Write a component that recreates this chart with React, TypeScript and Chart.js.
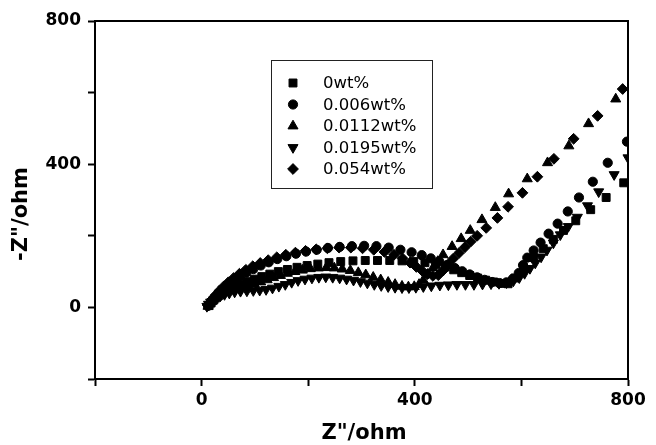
import React, { useEffect, useRef } from 'react';
import { Chart, registerables } from 'chart.js';
import { drawPoint } from 'chart.js/helpers';

Chart.register(...registerables);

// ---- data (Z' / ohm, -Z'' / ohm) ----
const seriesLabels = ['0wt%', '0.006wt%', '0.0112wt%', '0.0195wt%', '0.054wt%'];

const wt0: [number, number][] = [
  [14, 5], [18, 13], [23, 21], [29, 29], [36, 37], [44, 44], [53, 51], [63, 58], [74, 65], [86, 72],
  [99, 79], [113, 86], [128, 93], [144, 100], [161, 106], [179, 112], [198, 117], [218, 121], [239, 125],
  [261, 128], [284, 130], [307, 131], [330, 131], [353, 131], [376, 130], [398, 128], [419, 125], [439, 120],
  [457, 113], [473, 105], [488, 97], [503, 89], [518, 82], [533, 76], [548, 71], [562, 67], [575, 66],
  [588, 82], [604, 111], [623, 139], [641, 164], [660, 190], [679, 215], [702, 242], [730, 273], [759, 307],
  [792, 348],
];

const wt0006: [number, number][] = [
  [12, 4], [16, 12], [21, 21], [27, 31], [34, 42], [42, 53], [51, 64], [61, 75], [72, 86], [84, 97],
  [97, 107], [111, 117], [126, 126], [142, 135], [159, 143], [177, 150], [196, 156], [216, 161], [237, 166],
  [259, 169], [282, 171], [305, 172], [328, 171], [351, 167], [373, 161], [394, 154], [413, 146], [430, 137],
  [446, 128], [461, 119], [475, 110], [489, 101], [503, 92], [517, 84], [531, 77], [545, 71], [559, 68],
  [572, 70], [584, 80], [595, 96], [603, 118], [611, 139], [623, 159], [636, 181], [651, 206], [668, 234],
  [687, 268], [708, 307], [734, 351], [762, 404], [798, 463],
];

const wt00112: [number, number][] = [
  [12, 3], [15, 9], [19, 16], [24, 23], [30, 30], [37, 37], [45, 43], [54, 48], [64, 52], [75, 56],
  [87, 60], [99, 65], [111, 71], [123, 77], [135, 83], [148, 89], [161, 95], [175, 100], [189, 104],
  [204, 108], [219, 110], [234, 111], [249, 110], [264, 107], [279, 103], [294, 97], [308, 91], [322, 84],
  [336, 77], [350, 70], [363, 64], [376, 59], [388, 57], [399, 58], [408, 64], [416, 76], [425, 92],
  [434, 110], [443, 128], [453, 147], [470, 170], [487, 192], [504, 215], [526, 245], [551, 279],
  [576, 317], [611, 359], [649, 404], [689, 451], [726, 513], [777, 582],
];

const wt00195: [number, number][] = [
  [10, 3], [13, 9], [17, 15], [22, 21], [28, 27], [35, 32], [43, 36], [52, 40], [62, 43], [73, 45],
  [85, 46], [97, 47], [109, 48], [121, 50], [133, 54], [145, 59], [157, 64], [169, 70], [181, 75],
  [194, 79], [207, 82], [220, 84], [233, 85], [246, 84], [259, 82], [272, 79], [285, 76], [298, 72],
  [311, 68], [324, 64], [337, 61], [350, 58], [363, 56], [376, 55], [389, 55], [402, 56], [416, 58],
  [431, 60], [447, 62], [463, 63], [479, 64], [495, 64], [511, 64], [527, 65], [543, 66], [558, 67],
  [572, 69], [585, 74], [596, 83], [606, 95], [616, 109], [626, 124], [637, 141], [648, 160], [660, 180],
  [673, 203], [688, 226], [705, 252], [724, 284], [745, 323], [774, 371], [800, 418],
];

const wt0054: [number, number][] = [
  [12, 5], [15, 13], [20, 23], [26, 34], [33, 46], [41, 58], [50, 70], [60, 82], [71, 94], [83, 105],
  [96, 115], [110, 124], [125, 132], [141, 140], [158, 147], [176, 153], [195, 158], [215, 162], [236, 165],
  [258, 167], [280, 167], [302, 165], [323, 161], [343, 155], [361, 147], [377, 137], [391, 125], [403, 113],
  [414, 102], [424, 93], [434, 88], [444, 90], [453, 103], [462, 119], [472, 136], [483, 152], [494, 168],
  [505, 184], [517, 200], [534, 222], [555, 250], [575, 281], [602, 320], [630, 365], [661, 415],
  [698, 471], [743, 535], [790, 610],
];

const allSeries = [wt0, wt0006, wt00112, wt00195, wt0054];
const markerStyles = ['rect', 'circle', 'triangle', 'triangle', 'rectRot'];
const markerRotations = [0, 0, 0, 180, 0];
const markerRadii = [5.6, 4.6, 5.8, 5.8, 5.4];

const axisMin = -200;
const axisMax = 800;
const tickStep = 200;
const labelledTicks = [0, 400, 800];
const xTitle = 'Z"/ohm';
const yTitle = '-Z"/ohm';

const FONT = '"DejaVu Sans", "Liberation Sans", Arial, sans-serif';

const framePlugin = {
  id: 'frame',
  afterDraw(chart: any) {
    const { ctx, chartArea } = chart;
    ctx.save();
    ctx.strokeStyle = '#000';
    ctx.lineWidth = 2;
    ctx.strokeRect(chartArea.left, chartArea.top, chartArea.right - chartArea.left, chartArea.bottom - chartArea.top);
    ctx.restore();
  },
};

const titlesPlugin = {
  id: 'titles',
  afterDraw(chart: any) {
    const { ctx } = chart;
    ctx.save();
    ctx.fillStyle = '#000';
    ctx.font = `bold 21px ${FONT}`;
    ctx.textAlign = 'center';
    ctx.textBaseline = 'middle';
    ctx.fillText(xTitle, 364, 434);
    ctx.translate(22, 214);
    ctx.rotate(-Math.PI / 2);
    ctx.fillText(yTitle, 0, 0);
    ctx.restore();
  },
};

const legendPlugin = {
  id: 'boxLegend',
  afterDraw(chart: any) {
    const { ctx } = chart;
    const left = 271, top = 60, right = 432, bottom = 188;
    ctx.save();
    ctx.strokeStyle = '#222';
    ctx.lineWidth = 1;
    ctx.strokeRect(left + 0.5, top + 0.5, right - left, bottom - top);
    ctx.font = `16.5px ${FONT}`;
    ctx.textBaseline = 'middle';
    ctx.textAlign = 'left';
    chart.data.datasets.forEach((ds: any, i: number) => {
      const y = 83 + i * 21.5;
      ctx.fillStyle = '#000';
      ctx.strokeStyle = '#000';
      ctx.lineWidth = 1;
      drawPoint(ctx, { pointStyle: ds.pointStyle, radius: ds.pointRadius, rotation: ds.pointRotation, borderWidth: 1 }, 293, y);
      ctx.fillStyle = '#000';
      ctx.fillText(ds.label, 323, y + 1);
    });
    ctx.restore();
  },
};

export default function App() {
  const canvasRef = useRef<HTMLCanvasElement | null>(null);

  useEffect(() => {
    if (!canvasRef.current) return;
    const tickCallback = (v: any) => (labelledTicks.includes(Number(v)) ? String(v) : '');
    const commonScale = {
      type: 'linear' as const,
      min: axisMin,
      max: axisMax,
      ticks: {
        stepSize: tickStep,
        callback: tickCallback,
        color: '#000',
        font: { family: FONT, size: 17, weight: 'bold' as const },
        autoSkip: false,
        maxRotation: 0,
      },
      grid: {
        display: true,
        drawOnChartArea: false,
        drawTicks: true,
        tickLength: 7,
        tickColor: '#000',
        tickWidth: 2,
      },
      border: { display: true, color: '#000', width: 2 },
    };

    const chart = new Chart(canvasRef.current, {
      type: 'scatter',
      data: {
        datasets: allSeries.map((pts, i) => ({
          label: seriesLabels[i],
          data: pts.map(([x, y]) => ({ x, y })),
          pointStyle: markerStyles[i] as any,
          pointRotation: markerRotations[i],
          pointRadius: markerRadii[i],
          pointHoverRadius: markerRadii[i],
          pointBackgroundColor: '#000',
          pointBorderColor: '#000',
          pointBorderWidth: 1,
          showLine: false,
        })),
      },
      options: {
        responsive: false,
        animation: false,
        events: [],
        layout: { padding: { top: 21, right: 28, left: 0, bottom: 0 } },
        plugins: {
          legend: { display: false },
          tooltip: { enabled: false },
        },
        scales: {
          x: {
            ...commonScale,
            position: 'bottom',
            ticks: { ...commonScale.ticks, padding: 4 },
            afterFit: (s: any) => { s.height = 66; },
          },
          y: {
            ...commonScale,
            position: 'left',
            ticks: { ...commonScale.ticks, padding: 7 },
            afterFit: (s: any) => { s.width = 95; },
          },
        },
      },
      plugins: [framePlugin, titlesPlugin, legendPlugin],
    });
    return () => chart.destroy();
  }, []);

  return (
    <div style={{ position: 'fixed', left: 0, top: 0, width: 656, height: 445, background: '#fff' }}>
      <canvas ref={canvasRef} width={656} height={445} style={{ width: 656, height: 445, display: 'block' }} />
    </div>
  );
}
